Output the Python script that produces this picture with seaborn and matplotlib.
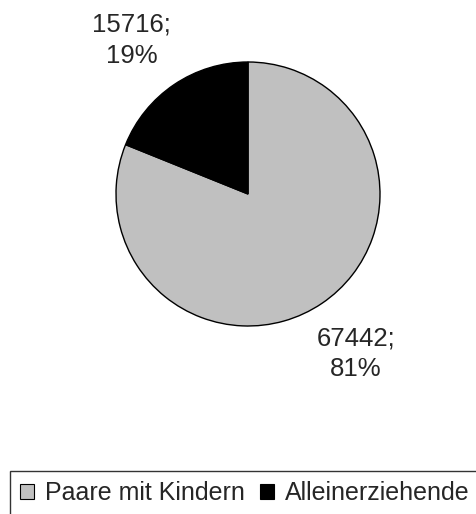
import matplotlib
matplotlib.use("Agg")
import matplotlib.pyplot as plt
import seaborn as sns
from matplotlib.patches import Patch

categories = ["Paare mit Kindern", "Alleinerziehende"]
values = [67442, 15716]
percent_labels = ["81%", "19%"]
colors = ["#C0C0C0", "#000000"]

sns.set_style("white")
plt.rcParams["font.family"] = ["Liberation Sans", "DejaVu Sans"]

W, H = 477, 514
fig = plt.figure(figsize=(W / 100, H / 100), dpi=100)

# pie centre (248, 194) px, radius 132 px
cx, cy, r = 248, 194, 132
ax = fig.add_axes([(cx - r) / W, 1 - (cy + r) / H, 2 * r / W, 2 * r / H])

labels = [f"{v};\n{p}" for v, p in zip(values, percent_labels)]
wedges, texts = ax.pie(values, colors=colors, startangle=90, counterclock=False,
                       labels=labels, labeldistance=1.46,
                       wedgeprops={"edgecolor": "black", "linewidth": 1.0},
                       textprops={"fontsize": 18.5, "linespacing": 1.35})
for t in texts:
    t.set_ha("center")
    t.set_va("center")
# small shift of the small-slice label as in the original layout
texts[1].set_position((-0.88, 1.165))
ax.set_xlim(-1, 1)
ax.set_ylim(-1, 1)
ax.set_aspect("equal")
ax.axis("off")

handles = [Patch(facecolor=c, edgecolor="black", linewidth=0.8) for c in colors]
leg = fig.legend(handles, categories, loc="upper left",
                 bbox_to_anchor=(10 / W, 1 - 471 / H), ncol=2, fontsize=18,
                 frameon=True, fancybox=False, edgecolor="black",
                 handlelength=0.55, handleheight=0.55, handletextpad=0.44,
                 columnspacing=0.62, borderpad=0.4, borderaxespad=0)
leg.get_frame().set_linewidth(1.0)

fig.savefig("out.png", dpi=100)
